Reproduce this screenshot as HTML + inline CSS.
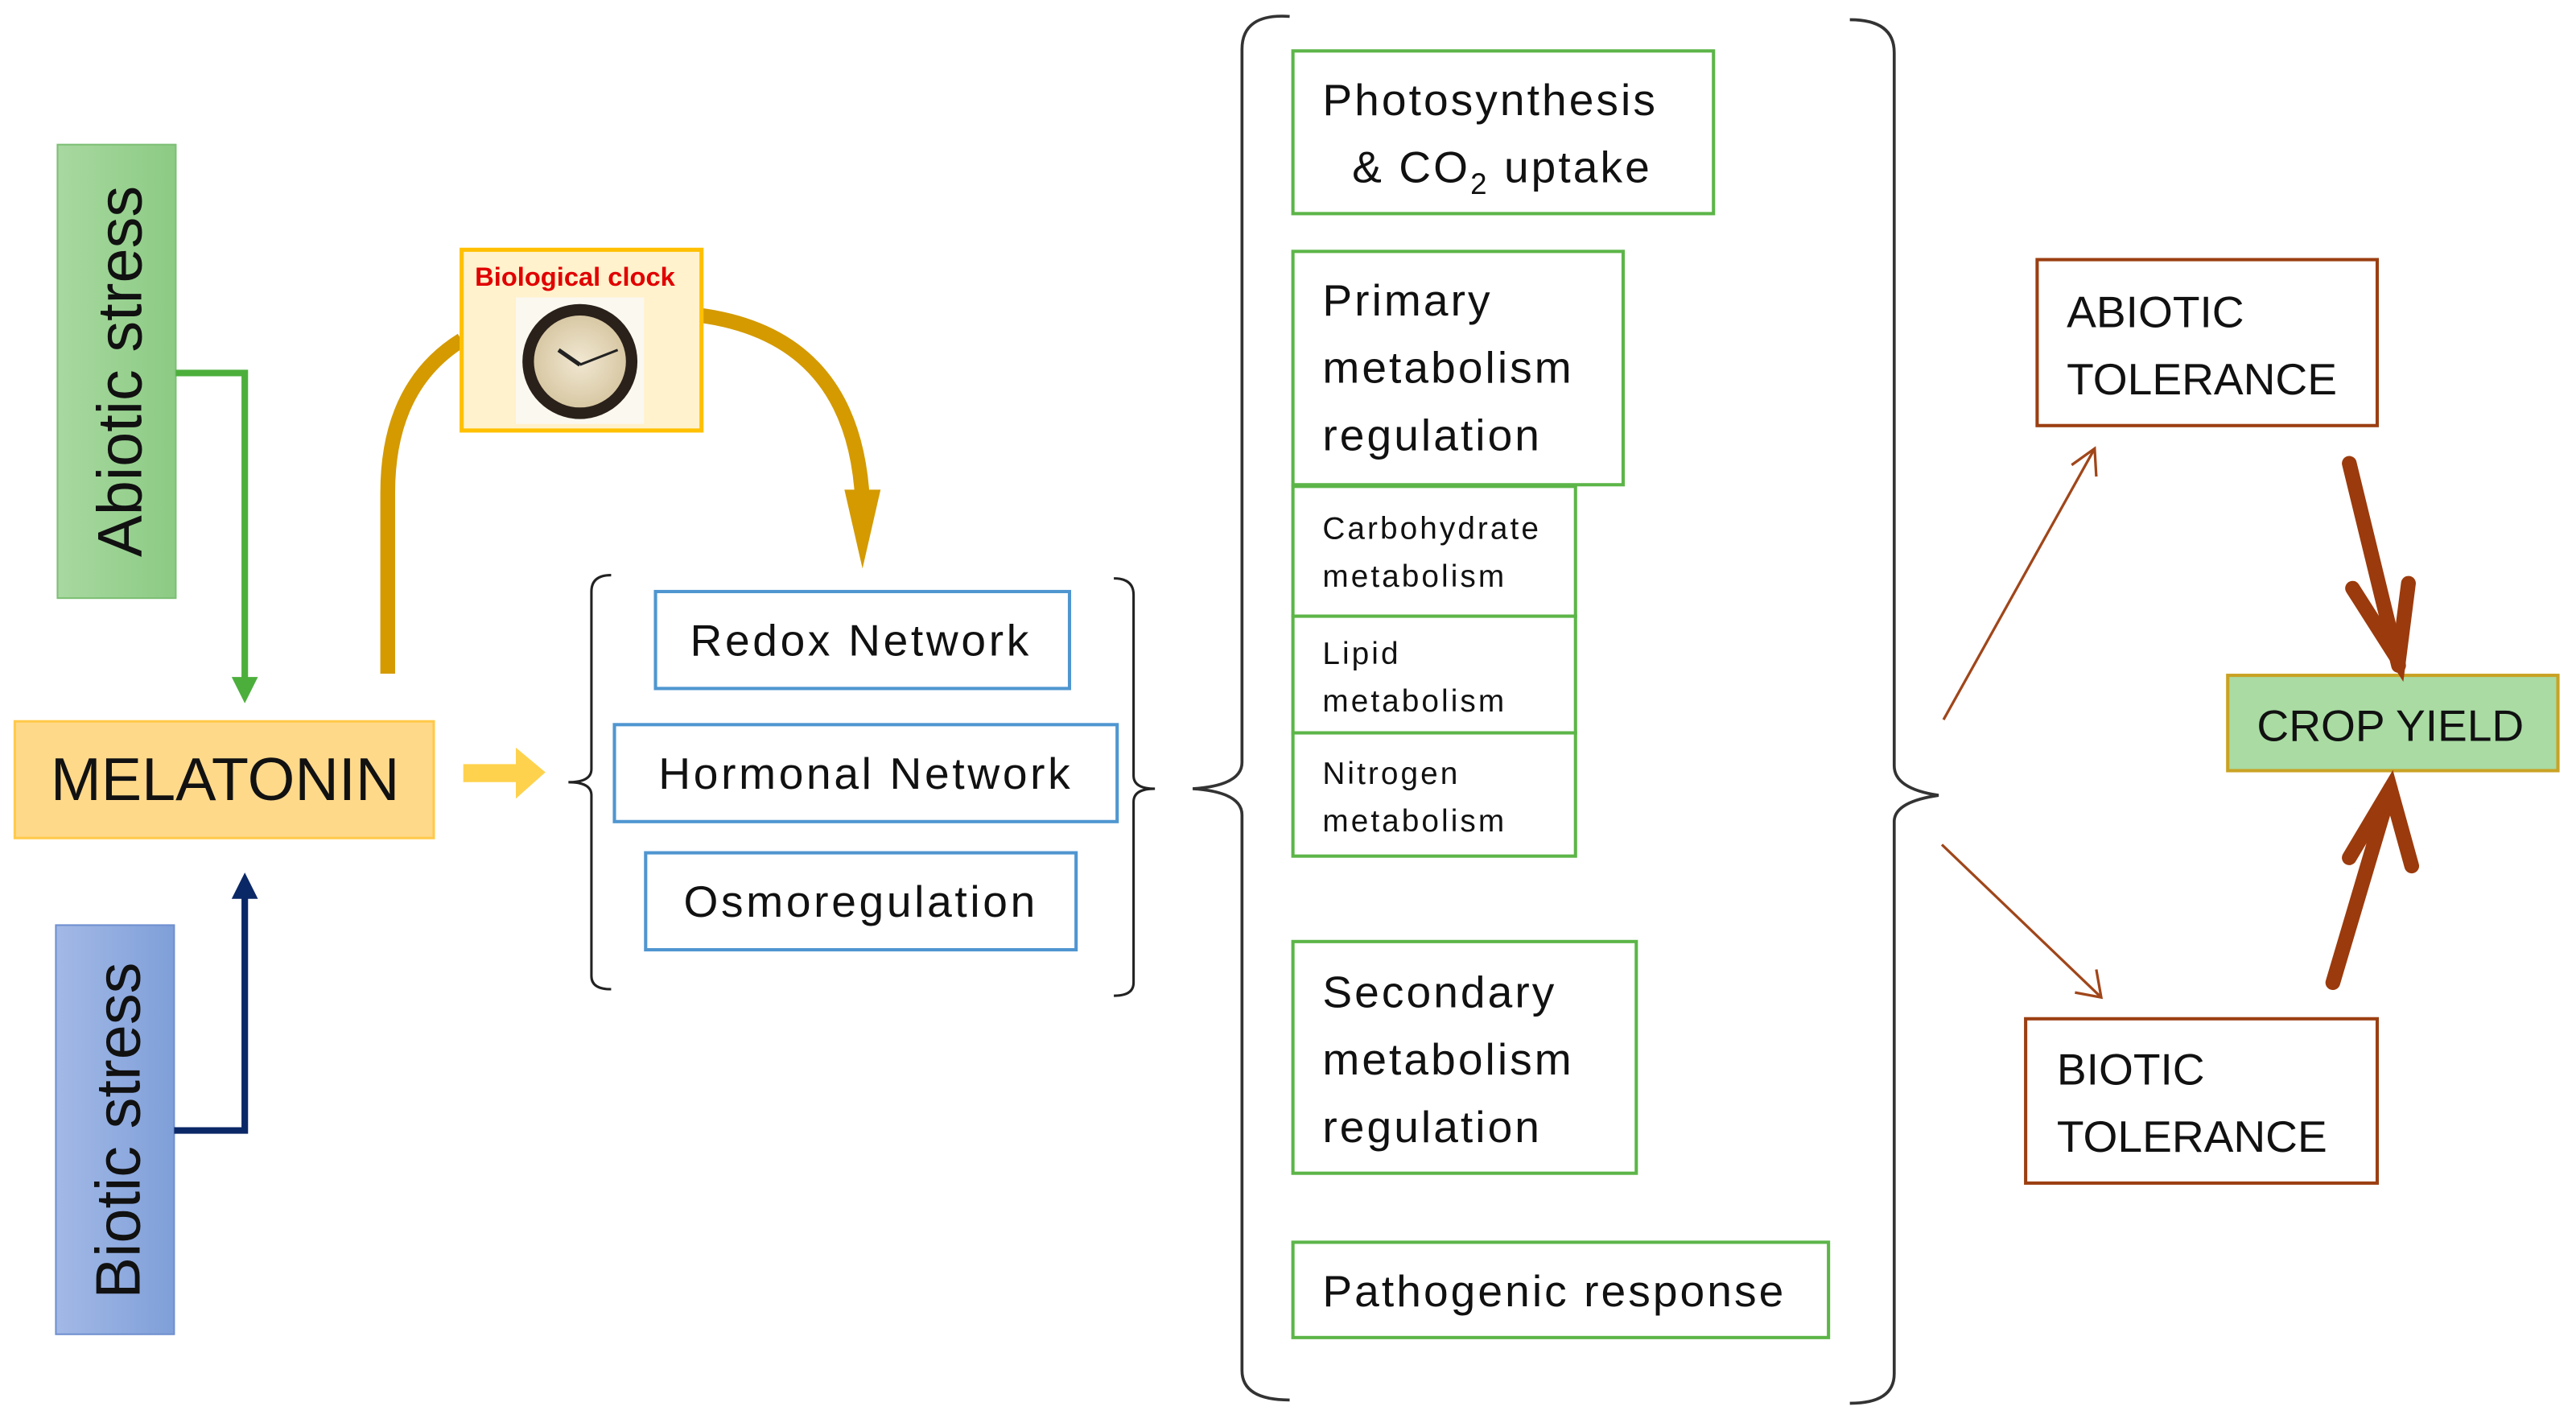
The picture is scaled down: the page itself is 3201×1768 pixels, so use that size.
<!DOCTYPE html>
<html><head><meta charset="utf-8"><style>
html,body{margin:0;padding:0;background:#fff;}
svg{display:block;}
text{font-family:"Liberation Sans",sans-serif;fill:#111;}
</style></head><body>
<svg width="3201" height="1768" viewBox="0 0 1568 866" preserveAspectRatio="none" xmlns="http://www.w3.org/2000/svg">
<defs>
<linearGradient id="gg" x1="0" x2="1"><stop offset="0" stop-color="#a8d8a0"/><stop offset="1" stop-color="#8ccb84"/></linearGradient>
<linearGradient id="bg" x1="0" x2="1"><stop offset="0" stop-color="#a3b9e6"/><stop offset="1" stop-color="#7f9fd9"/></linearGradient>
<radialGradient id="cf"><stop offset="0" stop-color="#f1e8d2"/><stop offset="1" stop-color="#d8c8a4"/></radialGradient>
</defs>
<rect x="35" y="88" width="72" height="276" fill="url(#gg)" stroke="#7cbf74" stroke-width="1"/>
<text transform="translate(86,226) rotate(-90)" font-size="38" text-anchor="middle">Abiotic stress</text>
<rect x="34" y="563" width="72" height="249" fill="url(#bg)" stroke="#6f8fcf" stroke-width="1"/>
<text transform="translate(85,688) rotate(-90)" font-size="38" text-anchor="middle">Biotic stress</text>
<polyline points="107,227 149,227 149,415" fill="none" stroke="#4caf3c" stroke-width="4"/>
<polygon points="141,412 157,412 149,428" fill="#4caf3c"/>
<polyline points="106,688 149,688 149,545" fill="none" stroke="#0a2766" stroke-width="4"/>
<polygon points="141,547 157,547 149,531" fill="#0a2766"/>
<rect x="9" y="439" width="255" height="71" fill="#ffd98a" stroke="#ffc94a" stroke-width="1.5"/>
<text x="137" y="487" font-size="37" text-anchor="middle">MELATONIN</text>
<polygon points="282,465 314,465 314,455 332,470 314,486 314,476 282,476" fill="#ffd24d"/>
<path d="M236,410 L236,300 Q236,235 281,207" fill="none" stroke="#d49a00" stroke-width="9"/>
<path d="M427,192 Q520,205 525,305" fill="none" stroke="#d49a00" stroke-width="9"/>
<polygon points="514,298 536,298 525,346" fill="#d49a00"/>
<rect x="281" y="152" width="146" height="110" fill="#fff2cc" stroke="#ffc000" stroke-width="2.5"/>
<text x="350" y="174" font-size="16" font-weight="bold" text-anchor="middle" style="fill:#e00000">Biological clock</text>
<rect x="314" y="181" width="78" height="77" fill="#fbf8f0"/>
<circle cx="353" cy="220" r="35" fill="#2a211a"/>
<circle cx="353" cy="220" r="28" fill="url(#cf)"/>
<line x1="353" y1="222" x2="340" y2="213" stroke="#222" stroke-width="2.5"/>
<line x1="353" y1="222" x2="376" y2="213" stroke="#222" stroke-width="1.5"/>
<path d="M372,350 Q360,350 360,360 L360,468 Q360,476 346,476 Q360,476 360,484 L360,594 Q360,602 372,602" fill="none" stroke="#222" stroke-width="1.5"/>
<path d="M678,352 Q690,352 690,362 L690,472 Q690,480 703,480 Q690,480 690,488 L690,598 Q690,606 678,606" fill="none" stroke="#222" stroke-width="1.5"/>
<g fill="#fff" stroke="#4f96d0" stroke-width="2">
<rect x="399" y="360" width="252" height="59"/>
<rect x="374" y="441" width="306" height="59"/>
<rect x="393" y="519" width="262" height="59"/>
</g>
<g font-size="27" text-anchor="middle" letter-spacing="1.8">
<text x="524" y="399">Redox Network</text>
<text x="527" y="480">Hormonal Network</text>
<text x="524" y="558">Osmoregulation</text>
</g>
<path d="M785,10 Q756,8 756,30 L756,464 Q756,478 726,480 Q756,482 756,496 L756,834 Q756,852 785,852" fill="none" stroke="#333" stroke-width="1.8"/>
<path d="M1126,12 Q1153,12 1153,32 L1153,466 Q1153,480 1180,484 Q1153,488 1153,500 L1153,836 Q1153,854 1126,854" fill="none" stroke="#333" stroke-width="1.8"/>
<g fill="#fff" stroke="#5cb548" stroke-width="2">
<rect x="787" y="31" width="256" height="99"/>
<rect x="787" y="153" width="201" height="142"/>
<rect x="787" y="296" width="172" height="79"/>
<rect x="787" y="375" width="172" height="71"/>
<rect x="787" y="446" width="172" height="75"/>
<rect x="787" y="573" width="209" height="141"/>
<rect x="787" y="756" width="326" height="58"/>
</g>
<g font-size="27" letter-spacing="1.5">
<text x="805" y="70">Photosynthesis</text>
<text x="823" y="111">&amp; CO<tspan font-size="18" dy="7">2</tspan><tspan dy="-7"> uptake</tspan></text>
<text x="805" y="192">Primary</text>
<text x="805" y="233">metabolism</text>
<text x="805" y="274">regulation</text>
<text x="805" y="613">Secondary</text>
<text x="805" y="654">metabolism</text>
<text x="805" y="695">regulation</text>
<text x="805" y="795">Pathogenic response</text>
</g>
<g font-size="19" letter-spacing="1.5">
<text x="805" y="328">Carbohydrate</text>
<text x="805" y="357">metabolism</text>
<text x="805" y="404">Lipid</text>
<text x="805" y="433">metabolism</text>
<text x="805" y="477">Nitrogen</text>
<text x="805" y="506">metabolism</text>
</g>
<g fill="#fff" stroke="#9b3f12" stroke-width="2">
<rect x="1240" y="158" width="207" height="101"/>
<rect x="1233" y="620" width="214" height="100"/>
</g>
<g font-size="27">
<text x="1258" y="199">ABIOTIC</text>
<text x="1258" y="240">TOLERANCE</text>
<text x="1252" y="660">BIOTIC</text>
<text x="1252" y="701">TOLERANCE</text>
</g>
<rect x="1356" y="411" width="201" height="58" fill="#a9dba3" stroke="#c9a224" stroke-width="2"/>
<text x="1455" y="451" font-size="27" text-anchor="middle">CROP YIELD</text>
<g stroke="#a0461a" stroke-width="1.6" fill="none">
<line x1="1183" y1="438" x2="1275" y2="273"/>
<polyline points="1261,283 1275,273 1276,290"/>
<line x1="1182" y1="514" x2="1279" y2="607"/>
<polyline points="1263,604 1279,607 1276,590"/>
</g>
<g stroke="#9b3a0c" stroke-width="9" fill="none" stroke-linecap="round">
<line x1="1430" y1="282" x2="1460" y2="405"/>
<polyline points="1432,358 1460,402 1466,355"/>
<line x1="1420" y1="598" x2="1455" y2="480"/>
<polyline points="1430,522 1455,480 1468,527"/>
</g>
</svg>
</body></html>
